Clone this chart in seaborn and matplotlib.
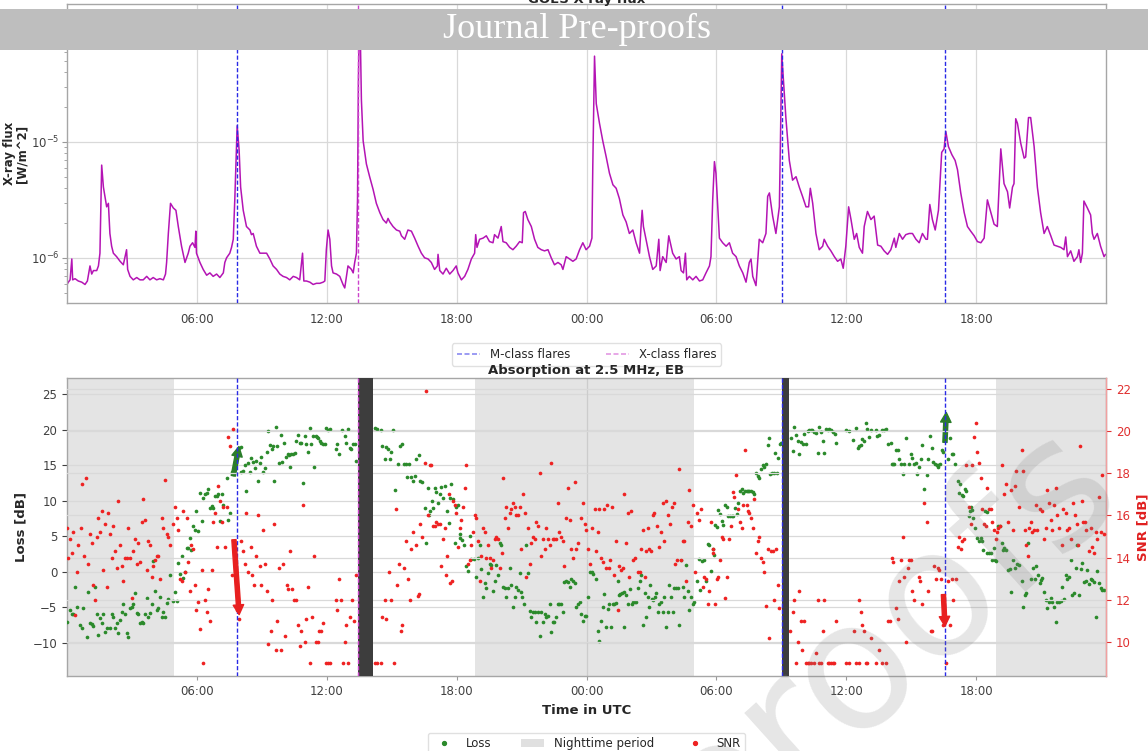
import matplotlib
matplotlib.use("Agg")
import numpy as np
import pandas as pd
import matplotlib.pyplot as plt
import seaborn as sns
from matplotlib.lines import Line2D
from matplotlib.patches import Patch, Rectangle

# ---------------- data (hours since 00:00 of day 1) ----------------
tick_hours = [6, 12, 18, 24, 30, 36, 42]
tick_labels = ["06:00", "12:00", "18:00", "00:00", "06:00", "12:00", "18:00"]

m_flare_hours = [7.86, 33.03, 40.57]
x_flare_hours = [13.42]
night_periods = [(0.0, 4.94), (18.86, 28.98), (42.94, 48.0)]
data_gaps = [(13.46, 14.15), (33.05, 33.36)]
loss_arrows = [((7.68, 13.5), (7.94, 17.6)), ((40.56, 18.2), (40.62, 22.4))]
snr_arrows = [((7.71, 14.85), (7.95, 11.3)), ((40.49, 12.25), (40.56, 10.75))]

# GOES X-ray flux: (hour, log10 flux [W/m^2])
xray_points = [
(0.00,-6.23),(0.06,-6.21),(0.14,-6.19),(0.22,-6.01),(0.26,-6.19),(0.37,-6.18),(0.52,-6.20),(0.68,-6.21),
(0.83,-6.23),(0.94,-6.20),(1.06,-6.07),(1.14,-6.14),(1.22,-6.11),(1.37,-6.11),(1.45,-6.07),(1.52,-5.96),
(1.60,-5.20),(1.68,-5.39),(1.75,-5.47),(1.83,-5.56),(1.91,-5.53),(1.98,-5.79),(2.06,-5.90),(2.14,-5.96),
(2.29,-5.99),(2.45,-6.03),(2.60,-6.06),(2.75,-5.93),(2.80,-6.10),(2.91,-6.16),(3.06,-6.19),(3.22,-6.17),
(3.37,-6.19),(3.52,-6.19),(3.68,-6.16),(3.83,-6.19),(3.98,-6.17),(4.14,-6.19),(4.29,-6.18),(4.45,-6.19),
(4.55,-6.14),(4.60,-6.04),(4.68,-5.79),(4.78,-5.53),(4.91,-5.57),(5.03,-5.59),(5.14,-5.73),(5.29,-5.90),
(5.45,-6.04),(5.60,-5.96),(5.68,-5.90),(5.80,-5.87),(5.91,-5.91),(5.95,-5.77),(5.98,-5.96),(6.14,-6.04),
(6.29,-6.10),(6.45,-6.15),(6.60,-6.13),(6.75,-6.16),(6.91,-6.14),(7.06,-6.17),(7.22,-6.13),(7.29,-6.04),
(7.37,-6.00),(7.52,-5.96),(7.60,-5.91),(7.68,-5.84),(7.75,-5.50),(7.86,-4.86),(7.95,-5.07),(8.02,-5.39),
(8.14,-5.59),(8.29,-5.73),(8.45,-5.76),(8.52,-5.80),(8.60,-5.79),(8.75,-5.90),(8.91,-5.96),(9.06,-5.96),
(9.22,-5.96),(9.37,-6.01),(9.52,-6.07),(9.68,-6.10),(9.83,-6.14),(9.98,-6.16),(10.14,-6.17),(10.29,-6.19),
(10.45,-6.16),(10.60,-6.17),(10.75,-6.19),(10.88,-5.96),(10.94,-6.20),(11.06,-6.20),(11.22,-6.21),(11.37,-6.23),
(11.52,-6.22),(11.68,-6.22),(11.83,-6.21),(11.91,-6.20),(11.98,-5.93),(12.06,-5.76),(12.14,-5.84),(12.22,-6.07),
(12.29,-6.13),(12.45,-6.14),(12.60,-6.16),(12.75,-6.23),(12.83,-6.26),(12.91,-6.16),(12.98,-6.07),(13.14,-6.10),
(13.22,-6.13),(13.29,-6.04),(13.37,-5.96),(13.42,-5.50),(13.46,-4.50),(13.50,-3.95),(13.56,-4.20),(13.60,-4.64),
(13.68,-4.99),(13.83,-5.19),(13.98,-5.30),(14.14,-5.41),(14.29,-5.53),(14.45,-5.61),(14.60,-5.67),(14.75,-5.70),
(14.83,-5.66),(14.91,-5.69),(15.06,-5.73),(15.22,-5.76),(15.37,-5.77),
(15.45,-5.81),(15.60,-5.84),(15.75,-5.76),(15.91,-5.77),(16.06,-5.83),(16.22,-5.90),(16.37,-5.96),(16.52,-6.00),
(16.68,-6.01),(16.83,-6.04),(16.98,-6.10),(17.11,-6.07),(17.14,-5.97),(17.22,-6.11),(17.37,-6.14),(17.52,-6.09),
(17.68,-6.14),(17.83,-6.11),(17.98,-6.07),(18.06,-6.13),(18.22,-6.19),(18.37,-6.16),(18.52,-6.10),(18.68,-6.01),
(18.83,-5.96),(18.88,-5.80),(18.94,-5.91),(19.06,-5.84),(19.22,-5.83),(19.37,-5.81),(19.52,-5.86),(19.68,-5.87),
(19.75,-5.80),(19.91,-5.83),(20.06,-5.73),(20.14,-5.86),(20.29,-5.87),(20.45,-5.91),(20.60,-5.93),(20.75,-5.90),
(20.91,-5.86),(21.03,-5.87),(21.09,-5.61),(21.17,-5.60),(21.29,-5.67),(21.45,-5.73),(21.60,-5.84),(21.75,-5.91),
(21.91,-5.93),(22.06,-5.94),(22.22,-5.93),(22.37,-6.00),(22.52,-6.06),(22.68,-6.04),(22.83,-6.06),(22.91,-6.10),
(23.06,-5.99),(23.22,-6.01),(23.37,-6.03),(23.52,-6.01),(23.68,-5.93),(23.83,-5.87),(23.98,-5.93),(24.14,-5.90),
(24.25,-5.83),(24.29,-5.21),(24.37,-4.26),(24.45,-4.67),(24.60,-4.84),(24.75,-4.99),(24.91,-5.13),(25.06,-5.27),
(25.22,-5.37),(25.37,-5.40),(25.52,-5.49),(25.68,-5.63),(25.83,-5.69),(25.98,-5.79),(26.14,-5.76),(26.29,-5.87),
(26.45,-5.96),(26.52,-5.73),(26.57,-5.59),(26.63,-5.73),(26.75,-5.84),(26.91,-5.99),(27.06,-6.10),(27.22,-6.07),
(27.34,-5.84),(27.40,-6.11),(27.52,-5.99),(27.68,-6.04),(27.80,-5.81),(27.91,-5.90),(27.98,-5.96),(28.14,-6.01),
(28.29,-5.99),(28.37,-6.11),(28.48,-6.13),(28.57,-5.96),(28.63,-6.19),(28.75,-6.16),(28.91,-6.19),(29.06,-6.16),
(29.22,-6.20),(29.37,-6.19),(29.52,-6.13),(29.68,-6.07),(29.75,-5.99),(29.83,-5.50),(29.91,-5.17),(29.98,-5.27),
(30.14,-5.83),(30.29,-5.87),(30.45,-5.90),(30.60,-5.87),(30.75,-5.96),(30.91,-5.99),(31.06,-6.07),(31.22,-6.13),
(31.37,-6.21),(31.52,-6.04),(31.60,-6.01),(31.68,-6.16),(31.83,-6.24),(31.98,-5.84),(32.14,-5.87),(32.29,-5.79),
(32.37,-5.47),(32.45,-5.44),(32.60,-5.64),(32.75,-5.79),(32.91,-5.56),
(32.96,-4.99),(33.02,-4.24),(33.09,-4.44),(33.21,-4.79),(33.37,-5.16),(33.52,-5.33),(33.68,-5.30),(33.83,-5.39),
(33.98,-5.47),(34.14,-5.56),(34.26,-5.56),(34.34,-5.40),(34.45,-5.53),(34.60,-5.79),(34.75,-5.93),(34.91,-5.90),
(34.98,-5.84),(35.14,-5.90),(35.29,-5.94),(35.45,-5.99),(35.60,-6.03),(35.75,-6.01),(35.86,-6.09),(35.98,-5.90),
(36.11,-5.56),(36.22,-5.67),(36.37,-5.84),(36.48,-5.79),(36.60,-5.91),(36.75,-5.96),(36.83,-5.73),(36.98,-5.60),
(37.14,-5.67),(37.29,-5.64),(37.45,-5.89),(37.60,-5.90),(37.75,-5.94),(37.91,-5.97),(38.06,-5.93),(38.22,-5.83),
(38.29,-5.91),(38.45,-5.79),(38.60,-5.84),(38.75,-5.80),(38.91,-5.79),(39.06,-5.79),(39.22,-5.84),(39.37,-5.87),
(39.52,-5.79),(39.68,-5.84),(39.75,-5.84),(39.86,-5.54),(39.98,-5.67),(40.11,-5.76),(40.26,-5.59),(40.41,-5.09),
(40.52,-5.06),(40.60,-4.91),(40.72,-5.04),(40.88,-5.11),(41.03,-5.16),(41.14,-5.24),(41.29,-5.44),(41.45,-5.61),
(41.60,-5.73),(41.75,-5.77),(41.91,-5.81),(42.06,-5.86),(42.22,-5.87),(42.37,-5.83),(42.52,-5.50),(42.68,-5.61),
(42.83,-5.71),(42.98,-5.73),(43.14,-5.06),(43.29,-5.36),(43.45,-5.43),(43.55,-5.57),(43.68,-5.39),(43.75,-5.36),
(43.83,-4.80),(43.91,-4.84),(44.06,-5.01),(44.22,-5.14),(44.29,-5.13),(44.42,-4.79),(44.52,-4.79),(44.68,-5.04),
(44.83,-5.39),(44.98,-5.61),(45.14,-5.79),(45.29,-5.73),(45.45,-5.81),(45.60,-5.89),(45.75,-5.90),(45.91,-5.91),
(46.06,-5.93),(46.14,-5.82),(46.22,-5.99),(46.37,-5.94),(46.52,-6.03),(46.68,-5.99),(46.75,-5.93),(46.83,-6.04),
(46.91,-5.96),(46.98,-5.51),(47.14,-5.57),(47.29,-5.63),(47.37,-5.79),(47.45,-5.84),(47.60,-5.79),(47.75,-5.90),
(47.91,-5.99),(47.98,-5.97),
]

# Loss at 2.5 MHz: (hour, dB)
loss_points = [
(0.01,-7.0),(0.14,-5.4),(0.22,-6.0),(0.29,-6.0),(0.37,-2.1),(0.48,-4.9),(0.60,-7.5),(0.68,-7.9),(0.75,-5.1),
(0.91,-9.1),(0.98,-2.8),(1.06,-7.2),(1.14,-7.4),(1.22,-7.6),(1.29,-2.1),(1.37,-6.0),(1.45,-8.9),(1.52,-6.5),
(1.60,-7.2),(1.68,-6.0),(1.75,-8.4),(1.83,-7.9),(1.98,-7.9),(2.06,-6.0),(2.14,-6.3),(2.22,-7.9),(2.29,-7.2),
(2.37,-8.6),(2.45,-6.8),(2.52,-5.6),(2.60,-4.6),(2.68,-6.0),(2.75,-8.6),(2.83,-9.1),(2.91,-5.1),(2.98,-4.9),
(3.06,-4.6),(3.14,-3.0),(3.22,-5.8),(3.29,-6.0),(3.37,-7.2),(3.45,-7.0),(3.52,-7.2),(3.60,-6.0),(3.68,-3.7),
(3.75,-6.4),(3.83,-5.8),(3.91,-4.6),(3.98,1.5),(4.06,-2.7),(4.14,-5.4),(4.21,-5.1),(4.29,-3.5),(4.37,-6.4),
(4.45,-5.7),(4.52,-6.4),(4.60,-4.4),(4.68,-3.8),(4.75,-0.4),(4.91,-4.1),(4.98,-2.8),(5.06,-4.1),(5.14,1.2),
(5.22,-0.3),(5.29,2.2),(5.37,-0.9),(5.45,0.0),(5.52,3.3),(5.60,3.3),(5.68,4.8),(5.75,3.0),(5.83,6.4),
(5.91,5.9),(5.98,8.5),(6.06,5.8),(6.14,11.1),(6.22,7.1),(6.29,10.4),(6.37,10.9),(6.45,11.1),(6.52,11.6),
(6.60,9.0),(6.68,9.2),(6.75,9.0),(6.83,10.6),(6.91,10.6),(6.98,10.9),(7.06,7.2),(7.14,10.9),(7.21,9.4),
(7.37,13.2),(7.45,7.3),(7.52,8.3),(7.60,14.1),(7.68,13.7),(7.75,16.7),
(7.95,17.4),(8.02,17.5),(8.06,14.1),(8.14,14.2),(8.22,15.0),(8.29,11.3),(8.37,15.3),(8.45,14.1),(8.52,16.0),
(8.60,15.5),(8.68,14.6),(8.75,15.6),(8.83,12.8),(8.91,15.3),(8.98,16.1),(9.06,14.0),(9.14,14.6),(9.22,16.9),
(9.29,19.8),(9.37,17.8),(9.45,17.2),(9.52,17.7),(9.57,12.7),(9.65,20.3),(9.72,17.7),(9.80,15.3),(9.88,19.3),
(9.95,15.4),(10.03,18.1),(10.11,16.1),(10.19,16.5),(10.26,16.4),(10.32,14.7),(10.37,16.5),(10.45,16.5),(10.52,16.7),
(10.60,18.4),(10.68,19.3),(10.75,18.1),(10.83,18.1),(10.88,12.5),(10.98,19.1),(11.06,17.9),(11.15,16.9),(11.22,20.2),
(11.29,17.9),(11.37,19.1),(11.42,14.7),(11.49,19.1),(11.55,18.9),(11.60,18.8),(11.68,18.4),(11.75,18.1),(11.83,17.9),
(11.94,17.9),(11.98,20.2),(12.06,20.0),(12.17,20.1),(12.42,17.3),(12.48,17.9),(12.57,16.5),(12.72,20.0),(12.83,19.1),
(12.91,18.1),(12.98,20.1),(13.06,17.4),(13.14,17.3),(13.22,17.9),(13.29,17.9),(13.34,15.6),(14.25,20.2),(14.34,20.1),
(14.52,19.9),(14.57,17.7),(14.68,15.8),(14.75,17.5),(14.83,17.3),(14.91,15.8),(14.98,16.9),(15.06,19.9),(15.17,11.5),
(15.29,15.1),(15.40,17.7),(15.49,17.9),(15.55,15.1),(15.65,15.2),(15.72,13.3),(15.80,15.2),
(15.91,13.3),(15.98,12.7),(16.06,13.4),(16.14,15.9),(16.26,16.4),(16.32,12.8),(16.42,12.6),(16.52,9.0),(16.60,4.0),
(16.68,11.8),(16.72,8.0),(16.78,8.6),(16.88,10.0),(16.91,8.9),(16.98,11.8),(17.06,11.2),(17.14,9.7),(17.22,10.9),
(17.29,11.9),(17.37,10.4),(17.45,12.0),(17.55,8.5),(17.65,6.9),(17.68,10.4),(17.75,12.4),(17.83,10.2),(17.91,4.0),
(17.98,9.1),(18.06,9.4),(18.14,5.3),(18.17,4.7),(18.26,4.4),(18.34,3.8),(18.42,0.8),(18.52,0.1),(18.60,5.0),
(18.68,1.8),(18.78,1.8),(18.88,-0.7),(18.98,1.9),(19.06,3.7),(19.14,0.4),(19.22,-3.5),(19.29,-1.6),(19.37,-2.3),
(19.45,-0.2),(19.52,1.1),(19.60,1.0),(19.68,-2.7),(19.75,-1.3),(19.83,1.0),(19.91,-0.4),(19.98,4.0),(20.06,3.8),
(20.14,-2.1),(20.22,-2.3),(20.29,-3.6),(20.37,-2.3),(20.45,0.5),(20.52,-1.9),(20.60,-4.9),(20.68,-3.6),(20.75,-2.1),
(20.83,-2.5),(20.91,-0.2),(20.98,-2.9),(21.03,-3.6),(21.09,-4.6),(21.20,3.7),(21.29,-0.2),(21.37,-5.5),(21.45,-6.4),
(21.52,-5.7),(21.60,-5.7),(21.68,-7.0),(21.75,-5.7),(21.83,-9.0),(21.91,-5.7),(21.98,-7.1),(22.06,-6.0),(22.14,-6.4),
(22.22,-6.2),(22.29,-4.6),(22.37,-8.5),(22.45,-7.1),(22.52,-7.1),(22.60,-6.4),(22.68,-4.6),(22.75,-4.6),(22.83,-4.6),
(22.91,-5.7),(22.98,-1.4),(23.06,-1.3),(23.14,-1.4),(23.22,-2.2),(23.29,-1.0),(23.37,-1.3),(23.45,-1.6),(23.52,-4.9),
(23.60,-4.6),(23.68,-4.2),
(23.75,-6.0),(23.83,-6.9),(23.91,-6.2),(23.98,-6.2),(24.06,-3.6),(24.17,0.0),(24.25,0.0),(24.32,-0.3),(24.42,-1.0),
(24.52,-8.3),(24.60,-9.7),(24.68,-6.9),(24.75,-5.0),(24.83,-3.1),(24.91,-7.8),(24.98,-5.2),(25.06,-4.6),(25.14,-7.8),
(25.22,-4.6),(25.29,-4.6),(25.37,-4.4),(25.45,-1.3),(25.49,-3.2),(25.55,-3.1),(25.65,-3.0),(25.71,-2.9),(25.75,-7.7),
(25.83,-3.2),(25.92,-4.6),(26.02,-2.4),(26.11,-4.6),(26.17,-4.2),(26.23,-4.2),(26.29,-4.2),(26.37,-2.3),(26.45,-1.3),
(26.52,-0.4),(26.60,-7.5),(26.68,-3.0),(26.75,-6.3),(26.83,-3.5),(26.88,-4.9),(26.94,-1.9),(27.03,-3.8),(27.09,-3.9),
(27.15,-3.6),(27.22,-3.0),(27.29,-5.6),(27.37,-4.6),(27.45,-4.3),(27.52,-5.7),(27.60,-3.6),(27.68,-7.8),(27.75,-5.6),
(27.83,-1.9),(27.91,-3.6),(27.98,-5.6),(28.06,-2.3),(28.14,-2.3),(28.22,-2.3),(28.29,-7.5),(28.37,1.7),(28.45,-2.2),
(28.52,-3.6),(28.60,1.0),(28.68,-2.7),(28.75,-5.4),(28.83,-3.5),(28.91,-4.6),(28.98,-4.3),(29.11,-1.3),(29.18,1.8),
(29.26,-2.5),(29.34,1.5),(29.42,1.7),(29.52,-1.3),(29.60,3.9),(29.68,3.8),(29.75,0.1),(29.83,3.2),(29.88,2.4),
(29.95,6.6),(30.02,6.3),(30.09,8.7),(30.17,8.1),(30.25,7.1),(30.32,6.6),(30.40,9.4),(30.48,9.1),(30.55,7.8),
(30.63,7.8),(30.71,7.8),(30.78,7.8),(30.86,8.9),(30.94,8.1),(31.02,9.7),(31.09,11.3),(31.17,11.6),(31.25,11.1),
(31.32,11.3),(31.40,11.3),(31.48,11.4),
(31.52,11.4),(31.60,11.3),(31.68,11.2),(31.75,10.9),(31.83,13.9),(31.91,13.4),(31.98,13.2),(32.06,14.4),(32.14,15.0),
(32.21,14.8),(32.29,15.1),(32.37,17.8),(32.44,18.8),(32.49,13.8),(32.57,13.9),(32.64,13.9),(32.69,16.7),(32.78,13.9),
(32.84,16.0),(32.92,18.0),(32.98,18.1),(33.44,18.8),(33.52,17.0),(33.60,20.3),(33.68,19.3),(33.75,18.4),(33.83,16.6),
(33.91,18.3),(33.98,18.0),(34.06,19.4),(34.14,17.9),(34.21,19.8),(34.29,19.9),(34.37,20.0),(34.44,19.9),(34.52,19.7),
(34.60,19.5),(34.68,16.7),(34.75,20.3),(34.83,19.7),(34.91,18.4),(34.98,16.7),(35.06,20.1),(35.14,19.9),(35.21,20.1),
(35.29,20.0),(35.37,19.7),(35.48,19.4),(35.52,18.1),(35.98,20.0),(36.11,19.8),(36.32,18.5),(36.44,20.2),(36.52,17.4),
(36.60,17.7),(36.68,17.8),(36.75,18.6),(36.83,18.4),(36.91,20.9),(36.98,20.1),(37.06,18.9),(37.14,19.9),(37.37,19.9),
(37.44,19.1),(37.52,19.3),(37.64,20.0),(37.75,20.0),(37.83,20.1),(37.95,17.9),(38.06,18.1),(38.11,15.2),(38.17,15.1),
(38.21,15.2),(38.29,17.1),(38.37,17.1),(38.44,15.9),(38.52,15.2),(38.60,13.8),(38.68,15.1),(38.75,18.8),(38.91,15.2),
(38.98,16.6),(39.06,16.0),(39.14,15.1),(39.21,15.3),
(39.29,13.8),(39.37,14.8),(39.45,15.8),(39.52,17.8),(39.60,11.6),(39.71,13.6),(39.80,15.9),(39.86,19.1),(39.95,17.4),
(40.01,15.5),(40.11,15.1),(40.17,15.0),(40.23,14.7),(40.26,15.0),(40.32,15.2),(40.41,17.1),(40.48,16.9),(40.68,15.8),
(40.78,18.8),(40.88,16.6),(40.95,16.6),(41.03,15.2),(41.14,12.8),(41.21,11.1),(41.26,12.3),(41.34,10.8),(41.40,10.6),
(41.49,11.7),(41.55,11.4),(41.65,7.9),(41.71,8.6),(41.75,9.1),(41.80,8.7),(41.86,7.5),(41.95,6.1),(42.06,4.8),
(42.14,4.3),(42.21,4.8),(42.26,4.3),(42.32,3.1),(42.41,8.5),(42.48,8.4),(42.52,2.6),(42.60,2.6),(42.68,2.6),
(42.75,1.6),(42.83,3.3),(42.88,1.7),(42.94,1.5),(43.03,6.4),(43.09,6.4),(43.18,4.0),(43.25,3.0),(43.29,3.3),
(43.37,3.0),(43.49,0.3),(43.55,0.4),(43.61,-2.8),(43.71,1.7),(43.80,0.6),(43.91,1.1),(43.98,0.9),(44.11,-1.3),
(44.18,-4.9),(44.26,-3.2),(44.32,-3.0),(44.38,4.0),(44.52,-1.0),(44.63,0.6),(44.72,-1.0),(44.78,0.8),(44.88,-0.5),
(44.94,-1.6),(45.00,-1.1),(45.06,-0.9),(45.14,-2.9),(45.21,-3.9),(45.29,-5.1),(45.37,-4.2),(45.45,-3.7),(45.52,-4.2),
(45.60,-4.9),(45.68,-7.0),(45.75,-4.2),(45.83,-4.3),(45.91,-4.1),(45.98,-2.2),(46.06,-3.8),(46.14,-0.4),(46.21,-1.0),
(46.29,-0.8),(46.37,1.7),(46.45,-3.3),(46.52,-3.0),(46.60,0.6),(46.68,3.7),(46.75,-3.2),(46.83,0.4),(46.91,1.2),
(46.98,-1.5),(47.06,-1.3),(47.14,0.3),(47.21,-1.7),(47.29,-1.0),(47.37,-1.1),(47.45,-1.4),(47.52,-6.3),(47.60,0.1),
(47.68,-1.6),(47.75,-2.3),(47.83,-2.5),(47.91,-2.5),
]

# SNR at 2.5 MHz: (hour, dB)
snr_points = [
(0.01,15.4),(0.06,14.0),(0.14,14.9),(0.22,14.2),(0.29,15.2),(0.37,11.3),(0.45,13.3),(0.52,14.6),(0.63,15.4),
(0.71,17.5),(0.78,14.1),(0.88,17.8),(0.98,13.7),(1.06,15.1),(1.14,14.7),(1.22,12.7),(1.29,12.0),(1.37,15.0),
(1.45,15.9),(1.52,15.2),(1.60,16.2),(1.68,13.4),(1.75,15.6),(1.83,12.6),(1.91,16.1),(1.98,15.1),(2.06,14.0),
(2.14,15.5),(2.22,14.3),(2.29,13.5),(2.37,16.7),(2.45,14.6),(2.52,13.6),(2.60,12.9),(2.68,14.0),(2.75,14.0),
(2.83,15.4),(2.91,14.0),(2.98,12.1),(3.06,14.3),(3.14,14.9),(3.22,13.7),(3.29,14.7),(3.37,13.8),(3.45,15.7),
(3.52,16.8),(3.60,15.8),(3.68,13.4),(3.75,14.8),(3.83,14.6),(3.91,13.1),(3.98,13.6),(4.06,13.9),(4.14,14.1),
(4.21,14.1),(4.29,13.0),(4.37,15.9),(4.45,15.4),(4.52,17.7),(4.60,15.1),(4.68,15.0),(4.75,14.6),(4.91,15.6),
(4.98,16.4),(5.06,15.9),(5.14,15.3),(5.22,13.0),(5.29,12.9),(5.37,16.2),(5.45,13.3),(5.52,15.9),(5.60,13.8),
(5.68,12.4),(5.75,14.6),(5.83,14.4),(5.91,12.7),(5.98,11.5),(6.06,11.9),(6.14,10.6),(6.22,13.4),(6.29,9.0),
(6.37,12.0),(6.45,11.4),(6.52,12.5),(6.60,11.0),(6.68,13.4),(6.75,15.7),(6.83,16.1),(6.91,14.5),(6.98,17.4),
(7.06,16.7),(7.14,15.7),(7.21,16.4),(7.29,14.5),(7.40,16.4),(7.45,19.7),(7.52,19.3),(7.68,20.1),
(7.60,13.2),(7.83,11.5),(7.95,11.1),(8.06,14.8),(8.14,14.3),(8.22,13.7),(8.29,16.1),(8.37,13.3),(8.48,14.5),
(8.55,13.2),(8.63,12.7),(8.72,14.1),(8.82,16.0),(8.91,13.6),(8.98,12.7),(9.06,15.3),(9.14,13.7),(9.22,12.4),
(9.29,9.9),(9.40,10.5),(9.49,12.0),(9.57,15.6),(9.65,9.6),(9.72,11.0),(9.80,13.5),(9.89,9.6),(9.98,13.7),
(10.06,10.3),(10.14,12.7),(10.22,12.5),(10.29,14.3),(10.38,12.5),(10.48,12.0),(10.57,12.0),(10.68,10.8),(10.75,9.8),
(10.83,10.5),(10.91,16.5),(10.98,10.0),(11.06,11.1),(11.15,12.6),(11.22,9.0),(11.31,11.2),(11.40,14.1),(11.49,10.0),
(11.58,10.0),(11.65,10.5),(11.74,10.5),(11.83,10.9),(11.95,9.0),(12.06,9.0),(12.17,9.0),(12.42,12.0),(12.48,11.5),
(12.57,13.0),(12.65,12.0),(12.75,9.0),(12.83,10.0),(12.91,10.8),(12.98,9.0),(13.06,11.2),(13.15,12.0),(13.25,11.0),
(13.34,13.2),(14.25,9.0),(14.34,9.0),(14.52,9.0),(14.57,11.2),(14.68,12.0),(14.75,11.1),(14.88,13.3),(14.98,12.0),
(15.09,9.0),(15.18,16.3),(15.26,12.7),(15.34,13.7),(15.43,10.5),(15.49,10.8),(15.55,13.5),(15.65,14.8),(15.75,13.0),
(15.83,12.0),
(15.91,14.4),(15.98,15.2),(16.11,14.6),(16.22,12.2),(16.26,12.3),(16.32,15.6),(16.41,15.0),(16.52,18.5),(16.60,21.9),
(16.68,16.0),(16.75,18.4),(16.83,18.4),(16.91,15.5),(16.98,15.5),(17.06,15.7),(17.14,15.6),(17.22,15.6),(17.29,13.6),
(17.37,14.9),(17.45,15.4),(17.49,13.2),(17.55,14.1),(17.65,17.0),(17.71,12.8),(17.80,12.9),(17.83,16.7),(17.91,16.5),
(17.98,16.1),(18.06,14.5),(18.14,15.4),(18.22,15.8),(18.29,16.4),(18.37,17.3),(18.45,18.4),(18.52,13.7),(18.60,13.9),
(18.68,14.6),(18.75,15.2),(18.83,16.0),(18.91,15.9),(18.98,14.8),(19.06,12.9),(19.14,14.1),(19.22,15.4),(19.29,15.2),
(19.37,14.0),(19.45,14.6),(19.52,14.0),(19.60,13.5),(19.68,13.9),(19.75,14.9),(19.83,15.0),(19.91,14.9),(19.98,13.5),
(20.08,14.2),(20.14,17.8),(20.22,15.9),(20.29,16.4),(20.37,15.4),(20.45,16.1),(20.52,16.3),(20.60,16.6),(20.68,16.4),
(20.75,16.0),(20.83,16.0),(20.91,16.4),(20.98,14.4),(21.06,17.0),(21.14,16.1),(21.22,13.1),(21.29,15.4),(21.37,13.7),
(21.45,14.7),(21.52,15.0),(21.60,14.9),(21.68,15.7),(21.75,15.5),(21.83,18.0),(21.91,14.1),(21.98,14.9),(22.06,14.4),
(22.14,15.4),(22.22,14.9),(22.29,14.6),(22.37,18.5),(22.45,14.9),(22.52,14.9),(22.60,14.9),(22.68,16.6),(22.75,15.2),
(22.83,15.0),(22.91,14.8),(22.98,13.6),(23.06,15.9),(23.14,17.3),(23.22,15.8),(23.29,14.4),(23.37,14.0),(23.45,17.6),
(23.52,14.4),(23.60,14.7),
(23.75,15.9),(23.83,16.6),(23.91,15.6),(23.98,15.3),(24.06,14.4),(24.17,13.7),(24.26,15.4),(24.37,16.3),(24.45,14.3),
(24.52,15.2),(24.60,16.3),(24.68,14.0),(24.75,13.8),(24.83,16.3),(24.91,13.5),(24.94,16.5),(25.03,13.5),(25.09,13.9),
(25.18,16.4),(25.26,13.2),(25.34,14.8),(25.45,11.5),(25.52,13.6),(25.60,13.4),(25.68,13.5),(25.75,17.0),(25.83,14.7),
(25.91,16.1),(25.98,13.1),(26.06,16.2),(26.17,13.9),(26.26,14.0),(26.37,13.3),(26.45,13.3),(26.52,14.4),(26.60,15.3),
(26.68,13.1),(26.75,14.3),(26.83,15.4),(26.91,14.4),(26.98,14.3),(27.06,16.0),(27.14,16.1),(27.25,15.5),(27.34,14.5),
(27.45,15.2),(27.52,16.6),(27.60,14.8),(27.68,16.7),(27.77,16.0),(27.86,15.6),(27.95,16.4),(28.02,16.6),(28.11,13.7),
(28.17,13.9),(28.29,18.2),(28.37,13.9),(28.45,14.8),(28.52,14.8),(28.60,12.9),(28.68,15.7),(28.75,17.2),(28.85,15.5),
(28.94,16.5),(29.03,13.3),(29.12,16.1),(29.22,15.8),(29.29,16.3),(29.37,12.6),(29.45,13.1),(29.52,13.0),(29.60,11.8),
(29.68,12.4),(29.75,15.7),(29.83,14.4),(29.86,14.2),(29.95,11.8),(30.02,13.0),(30.09,13.1),(30.17,13.9),(30.26,15.0),
(30.32,14.9),(30.42,12.1),(30.51,13.1),(30.57,14.9),(30.68,15.5),(30.75,17.1),(30.83,16.9),(30.91,17.9),(30.98,16.3),
(31.09,15.7),(31.17,15.4),(31.25,16.5),(31.34,19.1),(31.40,16.5),(31.48,16.2),
(31.52,16.1),(31.60,15.9),(31.68,15.4),(31.75,16.8),(31.83,14.2),(31.91,14.8),(31.98,15.0),(32.06,14.0),(32.14,13.8),
(32.21,13.3),(32.29,11.7),(32.37,14.4),(32.44,10.2),(32.52,14.3),(32.60,14.3),(32.68,12.0),(32.75,14.4),(32.83,12.7),
(32.91,11.6),(33.40,10.5),(33.52,11.4),(33.60,12.0),(33.68,9.0),(33.75,10.0),(33.83,12.4),(33.91,11.0),(33.95,9.6),
(34.06,11.0),(34.14,9.0),(34.21,9.0),(34.29,9.0),(34.37,9.0),(34.52,9.0),(34.60,9.5),(34.68,12.0),(34.75,9.0),
(34.83,9.0),(34.91,10.5),(34.98,12.0),(35.14,9.0),(35.21,9.0),(35.29,9.0),(35.37,9.0),(35.44,9.0),(35.52,11.0),
(35.98,9.0),(36.11,9.0),(36.37,10.5),(36.44,9.0),(36.57,9.0),(36.60,12.0),(36.68,11.4),(36.75,10.8),(36.83,10.5),
(36.91,9.0),(36.98,9.0),(37.14,10.2),(37.37,9.0),(37.52,9.6),(37.64,9.0),(37.83,9.0),(37.94,11.0),(38.01,11.0),
(38.11,14.0),(38.17,13.8),(38.29,11.6),(38.37,11.1),(38.44,12.9),(38.52,13.9),(38.60,15.0),(38.68,13.1),(38.75,10.0),
(38.83,13.5),(38.91,13.9),(38.98,13.9),(39.06,12.4),(39.14,12.0),
(39.34,13.1),(39.40,12.9),(39.49,11.8),(39.60,16.6),(39.71,15.7),(39.80,12.4),(39.91,10.5),(39.98,10.5),(40.06,13.6),
(40.14,13.0),(40.22,13.5),(40.29,13.4),(40.37,13.0),(40.45,10.8),(40.60,9.0),(40.72,12.9),(40.78,10.8),(40.88,13.0),
(40.95,12.0),(41.06,13.0),(41.14,14.5),(41.21,15.0),(41.29,14.4),(41.37,14.8),(41.45,14.9),(41.55,18.4),(41.68,16.4),
(41.75,15.6),(41.83,18.4),(41.91,19.7),(41.98,20.4),(42.06,19.0),(42.14,18.5),(42.21,17.8),(42.29,16.3),(42.37,15.6),
(42.45,15.5),(42.52,17.3),(42.60,16.3),(42.68,16.3),(42.75,15.7),(42.83,15.3),(42.91,14.9),(42.98,15.2),(43.03,15.4),
(43.09,15.5),(43.21,18.4),(43.29,17.0),(43.40,17.5),(43.49,15.7),(43.60,17.2),(43.71,15.3),(43.80,17.4),(43.86,18.1),
(43.98,16.4),(44.11,19.1),(44.17,18.1),(44.26,15.3),(44.32,14.6),(44.38,14.1),(44.45,15.4),(44.54,15.7),(44.60,15.2),
(44.68,15.3),(44.75,16.5),(44.83,15.3),(44.94,16.3),(45.03,16.2),(45.14,14.9),(45.21,15.4),(45.29,17.2),(45.37,16.6),
(45.45,15.8),(45.52,15.3),(45.60,16.5),(45.68,17.3),(45.75,16.0),(45.83,15.4),(45.95,14.6),(46.03,16.3),(46.14,16.1),
(46.21,15.3),(46.29,15.4),(46.40,14.9),(46.48,16.6),(46.55,16.0),(46.65,15.6),(46.72,14.6),(46.78,19.3),(46.88,16.7),
(46.94,15.7),(47.01,15.7),(47.09,15.3),(47.21,14.3),(47.29,15.4),(47.37,14.5),(47.45,14.2),(47.52,15.2),(47.60,14.9),
(47.68,16.9),(47.75,15.2),(47.83,17.9),(47.91,15.1),
]

# ---------------- style ----------------
sns.set_style("whitegrid", {"axes.edgecolor": "0.65", "grid.color": "0.85"})
plt.rcParams["font.family"] = ["DejaVu Sans"]
plt.rcParams["axes.linewidth"] = 1.0

GREEN = "#2b8a2b"
RED = "#ee2222"
PURPLE = "#b414b4"
MBLUE = "#2a2ae6"
XMAG = "#cc44cc"

fig = plt.figure(figsize=(11.48, 7.51), dpi=100)
ax1 = fig.add_axes([0.0584, 0.5965, 0.9050, 0.3982])
ax2 = fig.add_axes([0.0584, 0.0999, 0.9050, 0.3968])

# ---------------- top: GOES X-ray flux ----------------
xray = pd.DataFrame(xray_points, columns=["hour", "log10_flux"])
xray["flux"] = 10.0 ** xray["log10_flux"]
sns.lineplot(data=xray, x="hour", y="flux", ax=ax1, color=PURPLE, lw=1.1,
             estimator=None, legend=False)
ax1.set_yscale("log")
ax1.set_ylim(10 ** -6.39, 10 ** -3.81)
ax1.set_xlim(0, 48)
for h in m_flare_hours:
    ax1.axvline(h, color=MBLUE, ls="--", lw=1.0, dashes=(3, 1.5), zorder=3)
for h in x_flare_hours:
    ax1.axvline(h, color=XMAG, ls="--", lw=1.0, dashes=(3, 1.5), zorder=3)
ax1.set_xticks(tick_hours)
ax1.set_xticklabels(tick_labels)
ax1.set_xlabel("")
ax1.set_ylabel("X-ray flux\n[W/m^2]", fontsize=8.5, fontweight="bold", linespacing=1.0)
ax1.yaxis.set_label_coords(-0.037, 0.5)
ax1.set_title("GOES X-ray flux", fontsize=9.5, fontweight="bold", pad=1)
ax1.tick_params(axis="both", labelsize=8.5, colors="0.25")
ax1.tick_params(axis="y", which="both", left=True, color="0.6", pad=2)
ax1.tick_params(axis="y", which="minor", length=2)
ax1.grid(True, which="major", color="0.85", lw=0.9)
ax1.grid(False, which="minor")
leg1 = ax1.legend(handles=[
    Line2D([], [], color=MBLUE, ls="--", lw=1.2, alpha=0.55, dashes=(3, 1.5), label="M-class flares"),
    Line2D([], [], color=XMAG, ls="--", lw=1.2, alpha=0.55, dashes=(3, 1.5), label="X-class flares")],
    loc="upper center", bbox_to_anchor=(0.5, -0.115), ncol=2, fontsize=8.5,
    frameon=True, columnspacing=3.0, handlelength=2.0, borderpad=0.4)
leg1.get_frame().set_edgecolor("0.85")

# ---------------- bottom: absorption ----------------
for a, b in night_periods:
    ax2.axvspan(a, b, color="#e4e4e4", lw=0, zorder=0)
ax2.axvline(24, color="0.8", lw=0.9, zorder=0.6)

loss = pd.DataFrame(loss_points, columns=["hour", "loss"])
snr = pd.DataFrame(snr_points, columns=["hour", "snr"])
sns.scatterplot(data=loss, x="hour", y="loss", ax=ax2, color=GREEN, s=7,
                linewidth=0, legend=False, zorder=3)
ax2.set_xlim(0, 48)
ax2.set_ylim(-14.65, 27.25)
ax2.set_yticks([-10, -5, 0, 5, 10, 15, 20, 25])
ax2.set_xticks(tick_hours)
ax2.set_xticklabels(tick_labels)
ax2.grid(False, axis="x")
ax2.grid(True, axis="y", color="0.85", lw=0.9)
ax2.tick_params(axis="both", labelsize=8.5, colors="0.25")
ax2.tick_params(axis="x", bottom=True, length=3, color="0.6")
ax2.set_ylabel("Loss [dB]", fontsize=9.5, fontweight="bold")
ax2.set_xlabel("Time in UTC", fontsize=9.5, fontweight="bold")
ax2.set_title("Absorption at 2.5 MHz, EB", fontsize=9.5, fontweight="bold", pad=3)

ax3 = ax2.twinx()
sns.scatterplot(data=snr, x="hour", y="snr", ax=ax3, color=RED, s=7,
                linewidth=0, legend=False, zorder=3)
ax3.set_ylim(8.39, 22.52)
ax3.set_yticks([10, 12, 14, 16, 18, 20, 22])
ax3.grid(True, axis="y", color="0.85", lw=0.9)
ax3.grid(False, axis="x")
ax3.set_xlim(0, 48)
ax3.set_ylabel("SNR [dB]", fontsize=9.5, fontweight="bold", color="#e02020")
ax3.tick_params(axis="y", labelsize=8.5, colors="#e03030")
ax3.spines["right"].set_color("#f2a0a0")
for sp in ["left", "top", "bottom"]:
    ax3.spines[sp].set_visible(False)

for a, b in data_gaps:
    ax3.axvspan(a, b, color="#3d3d3d", lw=0, zorder=5)
for h in m_flare_hours:
    ax3.axvline(h, color=MBLUE, ls="--", lw=1.0, dashes=(3, 1.5), zorder=6)
for h in x_flare_hours:
    ax3.axvline(h, color=XMAG, ls="--", lw=1.0, dashes=(3, 1.5), zorder=6)

for start, end in loss_arrows:
    ax2.annotate("", xy=end, xytext=start,
                 arrowprops=dict(facecolor="#2a7d2a", edgecolor="#2a7d2a",
                                 width=3.0, headwidth=7.5, headlength=7, shrink=0))
for start, end in snr_arrows:
    ax3.annotate("", xy=end, xytext=start, zorder=7,
                 arrowprops=dict(facecolor="#e82020", edgecolor="#e82020",
                                 width=3.0, headwidth=7.5, headlength=7, shrink=0))

leg2 = ax2.legend(handles=[
    Line2D([], [], color=GREEN, marker="o", ls="", markersize=2.8, label="Loss"),
    Patch(facecolor="#e0e0e0", edgecolor="none", label="Nighttime period"),
    Line2D([], [], color=RED, marker="o", ls="", markersize=2.8, label="SNR")],
    loc="upper center", bbox_to_anchor=(0.5, -0.17), ncol=3, fontsize=8.5,
    frameon=True, columnspacing=2.5, handlelength=2.0)
leg2.get_frame().set_edgecolor("0.85")

# ---------------- overlays (banner and watermark) ----------------
fig.patches.append(Rectangle((0, 0.9334), 1.0, 0.0546, transform=fig.transFigure,
                             facecolor="#bebebe", edgecolor="none", zorder=20))
fig.text(0.503, 0.9607, "Journal Pre-proofs", ha="center", va="center",
         fontsize=26, color="white", family=["Liberation Serif", "DejaVu Serif"], zorder=21)
fig.text(0.77, 0.15, "proofs", ha="center", va="center", rotation=42,
         fontsize=128, color="0.5", alpha=0.2, zorder=22)

fig.savefig("out.png", dpi=100)
